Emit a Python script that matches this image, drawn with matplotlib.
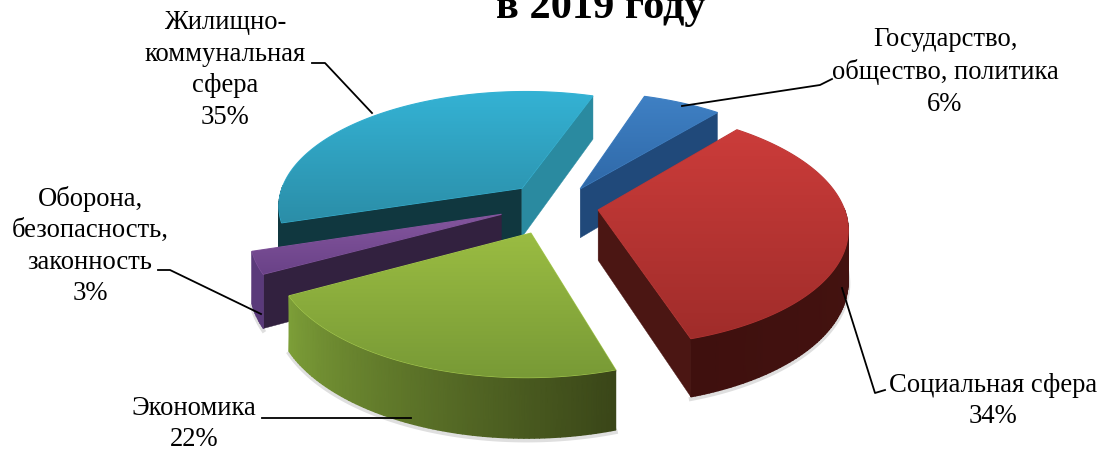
#!/usr/bin/env python
"""Exploded 3D-style pie of budget shares, in 2019."""
import numpy as np
import matplotlib

matplotlib.use("Agg")
import matplotlib.pyplot as plt
from matplotlib.colors import LinearSegmentedColormap
from matplotlib.patches import Polygon

plt.rcParams["font.family"] = ["Liberation Serif", "DejaVu Serif"]

title = "в 2019 году"
categories = [
    "Государство,\nобщество, политика",
    "Социальная сфера",
    "Экономика",
    "Оборона,\nбезопасность,\nзаконность",
    "Жилищно-\nкоммунальная\nсфера",
]
values = [6, 34, 22, 3, 35]

# how far each slice is pulled out of the pie, in disc units
shift_u = [0.105, 0.175, -0.095, -0.216, -0.138]
shift_v = [0.144, -0.043, -0.236, -0.080, 0.149]
top_light = ["#3f80c4", "#cb3c3a", "#9abc42", "#84569e", "#34b2d4"]
top_dark = ["#2f69a8", "#a02c2a", "#789a36", "#6a4288", "#2b8ea8"]
rim = ["#3f80c4", "#b83634", "#a8cc50", "#84569e", "#34b2d4"]
wall_from = ["#1c3f6c", "#4a1512", "#3a4618", "#5a3a7a", "#10373f"]
wall_to = ["#1a3860", "#3f100e", "#7d9f38", "#5a3a7a", "#10373f"]
cut_start = ["#1c3f6c", "#4b1613", "#4a6020", "#32213f", "#10373f"]
cut_end = ["#20497a", "#4b1613", "#5a7428", "#32213f", "#2a8aa0"]
label_xy = [(945, 72), (993, 401), (194, 424), (90, 246), (225, 70)]
leaders = [
    [(682, 106), (820, 85), (832, 79)],
    [(842, 288), (875, 393), (885, 390)],
    [(411, 418), (262, 418)],
    [(261, 314), (170, 270), (158, 270)],
    [(372, 113), (325, 63), (312, 63)],
]

CX, CY = 555, 205
RX, RY, DEPTH, PERSP = 245, 115, 50, 7.0
START = 18.5


def project(u, v, z=0.0):
    s = PERSP / (PERSP + v)
    return CX + RX * s * u, CY - RY * s * v + DEPTH * s * z


fig = plt.figure(figsize=(10.99, 4.5), dpi=100)
ax = fig.add_axes([0, 0, 1, 1])

edges = START + np.cumsum([0] + values) * 3.6
for i in [0, 4, 3, 1, 2]:
    a0, a1 = np.radians(edges[i]), np.radians(edges[i + 1])
    ou, ov = shift_u[i], shift_v[i]
    th = np.linspace(a0, a1, max(int(np.degrees(a1 - a0)), 6) + 1)
    us, vs = ou + np.sin(th), ov + np.cos(th)
    front = np.cos(th) < 0.03

    # soft shadow along the lower edge
    if front.any():
        lx, ly = project(us[front], vs[front], 1)
        ax.plot(lx, ly + 2, color="#808080", alpha=0.25, lw=3, zorder=1)

    # radial cut faces, only those turned to the viewer
    faces = []
    if np.sin(a0) < 0:
        faces.append((us[0], vs[0], cut_start[i]))
    if np.sin(a1) > 0:
        faces.append((us[-1], vs[-1], cut_end[i]))
    for au, av, col in faces:
        face = [project(ou, ov), project(au, av), project(au, av, 1), project(ou, ov, 1)]
        ax.add_patch(Polygon(face, closed=True, fc=col, ec=col, lw=0.3, zorder=1))

    # outer wall, shaded along the arc
    if front.sum() > 1:
        tx, ty = project(us[front], vs[front])
        bx, by = project(us[front], vs[front], 1)
        t = (th[front] - a0) / (a1 - a0)
        wall_cmap = LinearSegmentedColormap.from_list("wall", [wall_from[i], wall_to[i]])
        ax.pcolormesh(np.vstack([tx, bx]), np.vstack([ty, by]), np.vstack([t, t]),
                      cmap=wall_cmap, vmin=0, vmax=1, shading="gouraud", zorder=1)

    # top face with a vertical gradient clipped to the wedge
    pts = [project(ou, ov)] + [project(a, b) for a, b in zip(us, vs)]
    xs, ys = zip(*pts)
    patch = Polygon(pts, closed=True, fc="none", ec=rim[i], lw=0.8, zorder=1)
    ax.add_patch(patch)
    cmap = LinearSegmentedColormap.from_list("top", [top_light[i], top_dark[i]])
    im = ax.imshow(np.linspace(0, 1, 64)[:, None], cmap=cmap, aspect="auto", zorder=1,
                   extent=(min(xs), max(xs), max(ys), min(ys)))
    im.set_clip_path(patch)

for path in leaders:
    xs, ys = zip(*path)
    ax.plot(xs, ys, color="black", lw=1.3, zorder=3)

for cat, val, (x, y) in zip(categories, values, label_xy):
    ax.text(x, y, f"{cat}\n{val}%", ha="center", va="center", fontsize=19.2,
            linespacing=1.35, color="black", zorder=4)

ax.text(601, 18, title, ha="center", va="baseline", fontsize=30.5, fontweight="bold", zorder=4)

ax.set_xlim(0, 1099)
ax.set_ylim(450, 0)
ax.axis("off")
fig.savefig("out.png", dpi=100, facecolor="white")
